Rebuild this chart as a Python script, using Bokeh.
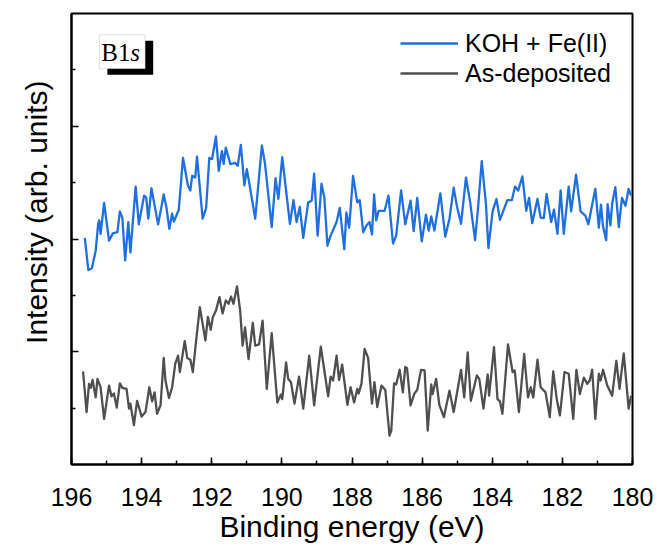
from bokeh.plotting import figure
from bokeh.models import Range1d, SingleIntervalTicker, FixedTicker, BoxAnnotation, Label, Title
from bokeh.embed import file_html
from bokeh.resources import INLINE

# ---- data ----
blue_ev = [195.62,195.52,195.42,195.31,195.24,195.21,195.17,195.07,194.93,194.82,194.69,194.62,194.55,194.47,194.38,194.32,194.17,194.08,193.93,193.87,193.81,193.72,193.53,193.37,193.29,193.21,193.13,193.08,192.94,192.82,192.68,192.61,192.56,192.47,192.42,192.26,192.16,192.07,191.99,191.88,191.80,191.71,191.66,191.60,191.47,191.33,191.26,191.17,191.07,191.00,190.91,190.76,190.57,190.48,190.29,190.18,190.10,189.99,189.77,189.67,189.58,189.49,189.39,189.25,189.15,189.08,188.98,188.87,188.79,188.70,188.61,188.44,188.35,188.22,188.16,188.08,187.97,187.85,187.78,187.68,
           187.59,187.50,187.43,187.37,187.31,187.24,187.07,186.96,186.83,186.74,186.60,186.48,186.33,186.24,186.14,186.01,185.89,185.81,185.74,185.65,185.48,185.34,185.22,185.10,185.01,184.89,184.75,184.63,184.49,184.40,184.30,184.18,184.11,183.99,183.88,183.78,183.57,183.44,183.35,183.26,183.14,183.03,182.95,182.86,182.71,182.62,182.53,182.45,182.32,182.24,182.14,182.05,181.96,181.82,181.75,181.61,181.48,181.34,181.26,181.06,180.96,180.90,180.84,180.75,180.71,180.63,180.58,180.49,180.39,180.30,180.20,180.11,180.04]
blue_int = [4.02,3.45,3.48,3.79,4.27,4.33,4.09,4.64,3.97,4.10,4.12,4.49,4.38,3.62,4.30,3.76,4.93,4.26,4.77,4.74,4.36,4.90,4.26,4.79,4.55,4.18,4.45,4.31,4.52,5.44,4.95,4.86,5.12,5.09,5.46,4.36,4.55,5.44,5.42,5.82,5.21,5.56,5.33,5.62,5.33,5.35,5.30,5.67,4.95,5.24,4.92,4.36,5.66,5.33,4.21,5.08,4.71,5.45,4.27,4.69,4.30,4.57,4.02,4.65,4.68,5.16,4.06,4.98,4.74,3.88,4.06,4.30,4.55,3.82,4.47,4.20,5.12,4.65,4.69,4.12,
            4.24,4.30,4.08,4.79,4.33,4.50,4.50,4.77,3.92,4.06,4.86,4.26,4.68,4.14,4.73,3.96,4.43,4.15,4.40,4.15,4.81,4.04,4.36,4.91,4.59,4.27,5.09,4.65,3.98,4.59,5.38,4.62,3.84,4.49,4.71,4.34,4.69,4.69,4.93,4.86,5.11,4.50,4.73,4.28,4.71,4.38,4.37,4.80,4.30,4.52,4.09,4.86,4.09,4.93,4.49,5.14,4.49,4.41,4.26,4.89,4.20,4.61,4.22,3.98,4.62,4.24,4.63,4.92,4.21,4.73,4.59,4.89,4.77]

gray_ev = [195.67,195.57,195.50,195.45,195.40,195.31,195.26,195.17,195.07,194.93,194.86,194.79,194.71,194.62,194.55,194.43,194.36,194.32,194.22,194.13,194.00,193.89,193.78,193.70,193.63,193.56,193.46,193.37,193.32,193.22,193.13,193.04,192.96,192.91,192.77,192.70,192.61,192.54,192.45,192.34,192.18,192.11,192.03,191.97,191.88,191.78,191.69,191.60,191.52,191.45,191.38,191.28,191.19,191.12,191.05,190.95,190.83,190.76,190.65,190.55,190.43,190.29,190.13,190.03,189.99,189.88,189.82,189.74,189.64,189.51,189.39,189.22,189.08,188.89,188.68,188.61,188.54,188.44,188.37,188.28,188.13,188.04,187.94,187.85,187.81,
           187.73,187.64,187.54,187.43,187.36,187.28,187.16,187.05,186.93,186.88,186.80,186.74,186.64,186.55,186.48,186.43,186.33,186.22,186.14,186.03,185.93,185.84,185.74,185.70,185.60,185.51,185.38,185.22,185.10,184.89,184.80,184.70,184.61,184.44,184.37,184.25,184.13,184.09,183.95,183.85,183.78,183.71,183.55,183.42,183.36,183.24,183.09,182.98,182.90,182.83,182.71,182.62,182.48,182.36,182.26,182.16,182.07,181.94,181.82,181.69,181.60,181.50,181.39,181.29,181.22,181.15,181.06,180.96,180.91,180.84,180.72,180.58,180.46,180.37,180.25,180.11,180.04]
gray_int = [1.65,0.93,1.43,1.36,1.50,1.19,1.52,1.37,0.81,1.40,1.21,1.26,1.01,1.44,1.36,1.34,0.99,1.08,0.70,1.13,0.85,0.93,1.37,1.12,1.28,0.90,1.05,1.89,1.49,1.18,1.37,1.79,1.93,1.64,2.19,1.89,1.86,1.64,2.17,2.79,2.20,2.62,2.39,2.61,2.73,2.97,2.68,2.91,2.85,2.98,2.85,3.16,2.73,2.11,2.43,1.87,2.51,2.11,2.13,2.55,1.34,2.33,1.10,1.24,1.16,1.81,1.52,1.46,1.08,1.56,0.99,1.93,1.05,2.09,1.21,1.56,1.49,1.93,1.50,1.77,1.06,1.37,1.10,1.34,1.26,
            1.43,2.05,1.89,1.08,1.46,1.02,1.40,1.32,0.51,0.60,1.44,1.42,1.68,1.28,1.73,1.71,1.05,1.26,1.32,1.68,1.67,0.60,1.42,1.25,1.52,1.06,0.84,1.31,0.93,1.68,1.19,1.99,1.13,1.58,1.52,0.99,1.60,1.22,2.08,1.16,1.12,0.90,2.13,1.64,1.67,0.93,1.96,1.19,1.37,1.19,1.86,1.37,1.28,0.84,1.65,1.16,0.87,1.64,1.61,0.81,1.68,1.25,1.54,1.43,1.49,1.68,0.81,1.61,1.49,1.68,1.40,1.22,1.84,1.34,1.97,0.99,1.22]

series_labels = ["KOH + Fe(II)", "As-deposited"]
x_title = "Binding energy (eV)"
y_title = "Intensity (arb. units)"
x_major_ticks_interval = 2
y_major_ticks = [2, 4, 6]
y_minor_ticks = [1, 3, 5, 7]

FONT = "Liberation Sans"
BLUE = "#1f6fe0"
GRAY = "#4f4f4f"

p = figure(width=657, height=550, x_range=Range1d(196, 180), y_range=Range1d(0, 8),
           output_backend="svg", toolbar_location=None,
           min_border_left=69, min_border_right=25, min_border_top=13, min_border_bottom=86)
p.background_fill_color = "white"
p.border_fill_color = "white"
p.xgrid.visible = False
p.ygrid.visible = False
p.outline_line_color = "black"
p.outline_line_width = 2

p.line(blue_ev, blue_int, line_color=BLUE, line_width=2.3, line_join="round",
       legend_label=series_labels[0])
p.line(gray_ev, gray_int, line_color=GRAY, line_width=2.3, line_join="round",
       legend_label=series_labels[1])

# x axis
xa = p.xaxis[0]
xa.ticker = SingleIntervalTicker(interval=x_major_ticks_interval, num_minor_ticks=2)
xa.axis_label = x_title
xa.axis_label_text_font = FONT
xa.axis_label_text_font_size = "30px"
xa.axis_label_text_font_style = "normal"
xa.axis_label_text_color = "black"
xa.axis_label_standoff = 1
xa.major_label_text_font = FONT
xa.major_label_text_font_size = "25px"
xa.major_label_text_color = "black"
xa.major_label_standoff = 23
xa.axis_line_width = 2
xa.axis_line_color = "black"
xa.major_tick_in = 7
xa.major_tick_out = 0
xa.minor_tick_in = 4
xa.minor_tick_out = 0
xa.major_tick_line_width = 1.5
xa.minor_tick_line_width = 1.5
xa.major_tick_line_color = "black"
xa.minor_tick_line_color = "black"

# y axis (ticks only, no tick labels)
ya = p.yaxis[0]
ya.ticker = FixedTicker(ticks=y_major_ticks, minor_ticks=y_minor_ticks)
ya.major_label_overrides = {t: "" for t in y_major_ticks}
ya.major_label_standoff = 0
ya.axis_line_width = 2
ya.axis_line_color = "black"
ya.major_tick_in = 7
ya.major_tick_out = 0
ya.minor_tick_in = 4
ya.minor_tick_out = 0
ya.major_tick_line_width = 1.5
ya.minor_tick_line_width = 1.5
ya.major_tick_line_color = "black"
ya.minor_tick_line_color = "black"

# y title as a side title (shifted towards the top like the reference)
p.add_layout(Title(text=y_title, align="right", offset=67, vertical_align="middle",
                   standoff=36, text_font=FONT, text_font_size="30px",
                   text_font_style="normal", text_color="black"), "left")

# legend
lg = p.legend[0]
lg.location = (329, 376)
lg.border_line_color = None
lg.background_fill_alpha = 0
lg.padding = 0
lg.margin = 0
lg.spacing = 0
lg.glyph_width = 58
lg.glyph_height = 30
lg.label_height = 30
lg.label_standoff = 7
lg.label_text_font = FONT
lg.label_text_font_size = "25px"
lg.label_text_color = "black"

# "B1s" tag box with drop shadow
shadow = BoxAnnotation(left=194.977, right=193.670, top=7.518, bottom=6.915,
                       fill_color="black", fill_alpha=1, line_color=None)
box = BoxAnnotation(left=195.205, right=193.898, top=7.624, bottom=7.021,
                    fill_color="white", fill_alpha=1, line_color="#9a9a9a", line_width=1)
p.add_layout(shadow)
p.add_layout(box)
p.add_layout(Label(x=195.15, y=7.31, text="B1", text_font="Liberation Serif",
                   text_font_size="25px", text_color="black", text_baseline="middle"))
p.add_layout(Label(x=195.15, y=7.31, x_offset=29, text="s", text_font="Liberation Serif",
                   text_font_size="25px", text_font_style="italic", text_color="black",
                   text_baseline="middle"))

open("out.html", "w").write(file_html(p, INLINE))
